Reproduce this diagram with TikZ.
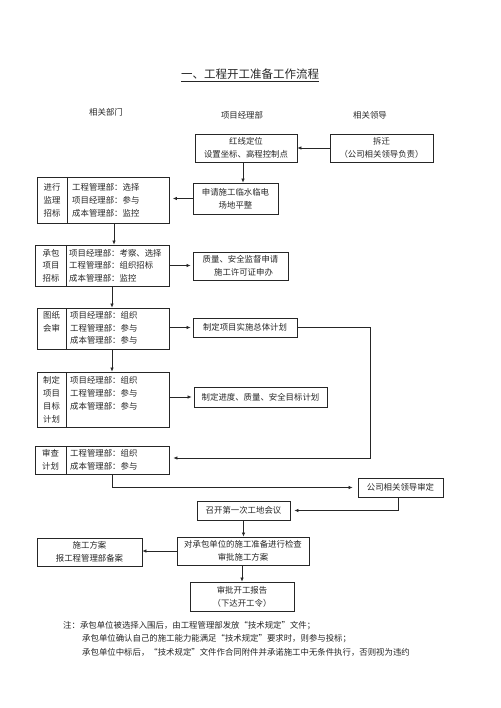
\documentclass[tikz,border=0pt]{standalone}
\usepackage{fontspec}
\setmainfont{Noto Sans CJK SC}
\usetikzlibrary{arrows.meta,calc}
\begin{document}
\begin{tikzpicture}[x=1pt,y=-1pt,
  every node/.style={font=\fontsize{8.4}{13}\selectfont, text=black!85, inner sep=0pt},
  box/.style={draw=black!85, line width=0.8pt, rectangle, align=center},
  lbox/.style={draw=black!85, line width=0.8pt, rectangle},
  txt/.style={align=left, anchor=west},
  arr/.style={draw=black!85, line width=0.7pt, -{Latex[length=4pt,width=3.6pt]}},
  ln/.style={draw=black!85, line width=0.7pt}]
\useasboundingbox (0,0) rectangle (500,708);

% title and headers
\node[font=\fontsize{11.5}{14}\selectfont] (title) at (250,75) {\underline{一、工程开工准备工作流程}};
\node (h1) at (106,112) {相关部门};
\node (h2) at (242,115) {项目经理部};
\node (h3) at (370,115) {相关领导};

% right column boxes
\node[box, minimum width=102, minimum height=28] (hx) at (246,148) {红线定位\\设置坐标、高程控制点};
\node[box, minimum width=103, minimum height=28] (cq) at (381.5,148) {拆迁\\（公司相关领导负责）};
\node[box, minimum width=85, minimum height=31] (sq) at (235.5,198.5) {申请施工临水临电\\场地平整};
\node[box, minimum width=95, minimum height=28] (zl) at (240.5,266) {质量、安全监督申请\\\hspace*{6pt}施工许可证申办};
\node[box, minimum width=104, minimum height=19] (zt) at (245,327.5) {制定项目实施总体计划};
\node[box, minimum width=133, minimum height=20] (jd) at (260.5,397) {制定进度、质量、安全目标计划};
\node[box, minimum width=85, minimum height=19] (gs) at (400.5,487.5) {公司相关领导审定};
\node[box, minimum width=93, minimum height=19] (zk) at (243.5,510.5) {召开第一次工地会议};
\node[box, minimum width=132, minimum height=28] (dc) at (243,551) {对承包单位的施工准备进行检查\\审批施工方案};
\node[box, minimum width=105, minimum height=28] (sg) at (89.5,552) {施工方案\\报工程管理部备案};
\node[box, minimum width=104, minimum height=29] (sp) at (242,596.5) {审批开工报告\\（下达开工令）};

% left compound boxes
\node[lbox, minimum width=132, minimum height=46] (L1) at (103,200) {};
\draw[ln] (67,177) -- (67,223);
\node[align=center] (L1a) at (52,200) {进行\\监理\\招标};
\node[txt] (L1b) at (72,200) {工程管理部：选择\\项目经理部：参与\\成本管理部：监控};

\node[lbox, minimum width=134, minimum height=41] (L2) at (102,265.5) {};
\draw[ln] (66,245) -- (66,286);
\node[align=center, font=\fontsize{8.4}{12.5}\selectfont] (L2a) at (51,265.5) {承包\\项目\\招标};
\node[txt, font=\fontsize{8.4}{12.5}\selectfont] (L2b) at (69,265.5) {项目经理部：考察、选择\\工程管理部：组织招标\\成本管理部：监控};

\node[lbox, minimum width=132, minimum height=41] (L3) at (103,328.5) {};
\draw[ln] (66,308) -- (66,349);
\node[align=center] (L3a) at (51.5,321.5) {图纸\\会审};
\node[txt, font=\fontsize{8.4}{12.5}\selectfont] (L3b) at (70,328) {项目经理部：组织\\工程管理部：参与\\成本管理部：参与};

\node[lbox, minimum width=132, minimum height=55] (L4) at (103,399.5) {};
\draw[ln] (66,372) -- (66,427);
\node[align=center] (L4a) at (51.5,399.5) {制定\\项目\\目标\\计划};
\node[txt] (L4b) at (70,393) {项目经理部：组织\\工程管理部：参与\\成本管理部：参与};

\node[lbox, minimum width=134, minimum height=28] (L5) at (102,460) {};
\draw[ln] (66,446) -- (66,474);
\node[align=center] (L5a) at (50.5,460) {审查\\计划};
\node[txt] (L5b) at (70,460) {工程管理部：组织\\成本管理部：参与};

% connectors
\draw[arr] (cq.west) -- (hx.east);
\draw[arr] ([xshift=-3pt]hx.south) -- ([xshift=-3pt]hx.south |- sq.north);
\draw[arr, shorten >=3.5pt] (sq.west) -- (sq.west -| L1.east);
\draw[arr] ([xshift=11pt]L1.south) -- ([xshift=11pt]L1.south |- L2.north);
\draw[arr, shorten <=0pt] (L2.east) -- ([xshift=-2pt]L2.east -| zl.west);
\draw[arr] ([xshift=10pt]L2.south) -- ([xshift=10pt]L2.south |- L3.north);
\draw[arr] (zt.west -| L3.east) -- ([xshift=-2pt]zt.west);
\draw[arr] ([xshift=9pt]L3.south) -- ([xshift=9pt]L3.south |- L4.north);
\draw[arr] (jd.west -| L4.east) -- ([xshift=-2pt]jd.west);
\draw[arr, shorten >=4pt] (zt.east) -- ++(73,0) |- ([yshift=2pt]L5.east);
\draw[arr, shorten >=5pt] ([xshift=10pt]L5.south) |- (gs.west);
\draw[arr, shorten >=4pt] ([xshift=-2pt]gs.south) |- (zk.east);
\draw[arr] (zk.south) -- (zk.south |- dc.north);
\draw[arr] (dc.west) -- (dc.west -| sg.east);
\draw[arr] ([xshift=-1pt]dc.south) -- ([xshift=-1pt]dc.south |- sp.north);

% notes
\node[anchor=west] (n1) at (63,626) {注：承包单位被选择入围后，由工程管理部发放“技术规定”文件；};
\node[anchor=west] (n2) at (82,639) {承包单位确认自己的施工能力能满足“技术规定”要求时，则参与投标；};
\node[anchor=west] (n3) at (82,652) {承包单位中标后，“技术规定”文件作合同附件并承诺施工中无条件执行，否则视为违约};
\end{tikzpicture}
\end{document}
